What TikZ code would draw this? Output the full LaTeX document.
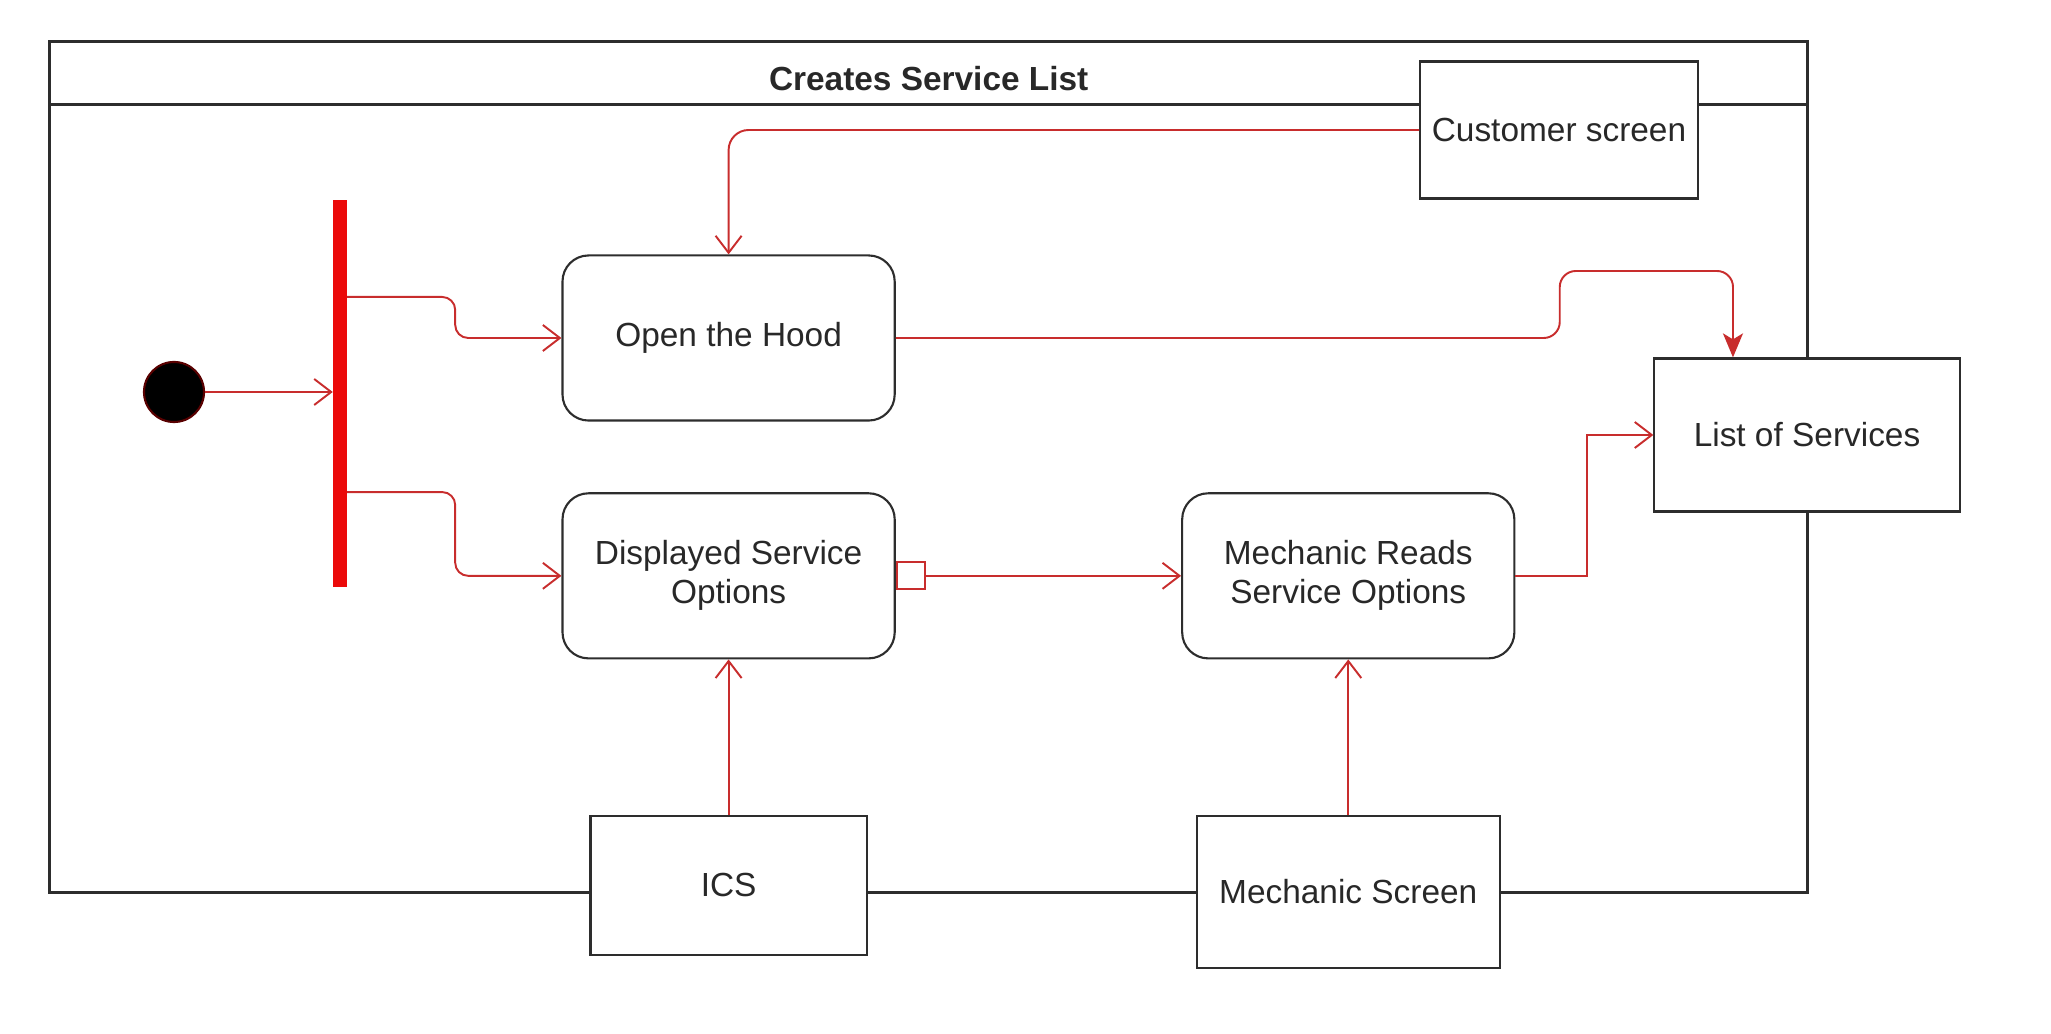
\documentclass[tikz,border=0pt]{standalone}
\usepackage{fontspec}
\setmainfont{Liberation Sans}
\usetikzlibrary{positioning,arrows.meta,calc}
\definecolor{flowred}{RGB}{200,45,45}
\definecolor{barred}{RGB}{235,10,10}
\definecolor{edgegray}{RGB}{45,45,45}
\definecolor{txtgray}{RGB}{40,40,40}

\begin{document}
\begin{tikzpicture}[x=0.01cm,y=-0.01cm,>={Straight Barb[length=0.17cm,width=0.26cm]},
   node distance=0.706cm and 2.852cm,
   every node/.style={font=\fontsize{9.5}{11.1}\selectfont,text=txtgray},
   action/.style={draw=edgegray,line width=0.6pt,fill=white,rounded corners=0.26cm,
     minimum width=3.32cm,minimum height=1.65cm,align=center},
   objbox/.style={draw=edgegray,line width=0.6pt,fill=white,align=center},
   flow/.style={draw=flowred,line width=0.55pt,->}]
  \useasboundingbox (0,0) rectangle (2051,1034);
  % swimlane frame
  \draw[edgegray,line width=0.8pt] (49.7,41.9) rectangle (1807.7,892.1);
  \draw[edgegray,line width=0.8pt] (49.7,104.6) -- (1807.7,104.6);
  \node[font=\fontsize{9.5}{11.1}\selectfont\bfseries] (title) at (928.7,79) {Creates Service List};
  % actions
  \node[action] (hood) at (728.6,338) {Open the Hood};
  \node[action,below=of hood] (disp) {Displayed Service\\Options};
  \node[action,right=of disp] (mreads) {Mechanic Reads\\Service Options};
  % objects
  \node[objbox,minimum width=2.76cm,minimum height=1.39cm,below=1.55cm of disp] (ics) {ICS};
  \node[objbox,minimum width=3.03cm,minimum height=1.52cm,below=1.55cm of mreads] (mscreen) {Mechanic Screen};
  \node[objbox,minimum width=2.77cm,minimum height=1.37cm] (cust) at (1559,130) {Customer screen};
  \node[objbox,minimum width=3.05cm,minimum height=1.53cm] (services) at (1807,435) {List of Services};
  % start and fork
  \node[circle,fill=black,draw=red!35!black,line width=0.6pt,minimum size=0.6cm,inner sep=0pt] (init) at (174,392) {};
  \node[fill=barred,minimum width=0.13cm,minimum height=3.87cm,inner sep=0pt] (fork) at (340,393.5) {};
  \node[draw=flowred,line width=0.55pt,fill=white,minimum width=0.28cm,minimum height=0.27cm,
    inner sep=0pt,anchor=west] (pin) at (disp.east) {};
  % flows
  \draw[flow] (init) -- (init -| fork.west);
  \draw[flow,rounded corners=0.13cm] ([yshift=0.965cm]fork.east) -- ++(108,0) |- (hood.west);
  \draw[flow,rounded corners=0.13cm] ([yshift=-0.985cm]fork.east) -- ++(108,0) |- (disp.west);
  \draw[flow,rounded corners=0.2cm] (cust.west) -| (hood.north);
  \draw[flow,rounded corners=0.16cm,-{Stealth[length=0.24cm,width=0.2cm,inset=0.06cm]}]
    (hood.east) -- ++(664,0) |- (1733,271) -- ([xshift=-0.74cm]services.north);
  \draw[flow] (pin.east) -- (mreads.west);
  \draw[flow] (mreads.east) -- ++(72,0) |- (services.west);
  \draw[flow] (ics) -- (disp);
  \draw[flow] (mscreen) -- (mreads);
\end{tikzpicture}
\end{document}
